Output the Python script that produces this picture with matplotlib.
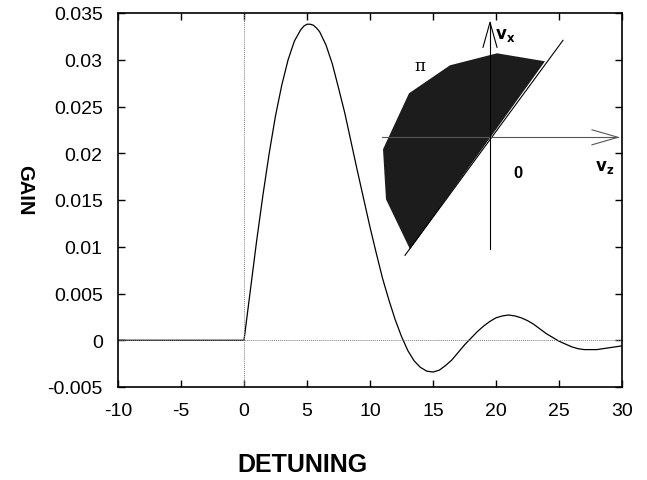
import numpy as np
import matplotlib
matplotlib.use("Agg")
import matplotlib.pyplot as plt

plt.rcParams['font.family'] = ['Liberation Sans', 'DejaVu Sans']
plt.rcParams['axes.unicode_minus'] = False

# --- gain curve ---
detuning = [-10, -5, -1, 0, 0.5, 1.0, 1.5, 2.0, 2.5, 3.0, 3.5, 4.0, 4.5, 4.75, 5.0,
            5.25, 5.5, 5.75, 6.0, 6.5, 7.0, 7.5, 8.0, 8.5, 9.0, 9.5, 10.0, 10.5,
            11.0, 11.5, 12.0, 12.5, 13.0, 13.5, 14.0, 14.5, 15.0, 15.5, 16.0, 16.5,
            17.0, 17.5, 18.0, 18.5, 19.0, 19.5, 20.0, 20.5, 21.0, 21.5, 22.0, 22.5,
            23.0, 23.5, 24.0, 24.5, 25.0, 25.5, 26.0, 26.5, 27.0, 27.5, 28.0, 28.5,
            29.0, 29.5, 30.0]
gain = [0, 0, 0, 0, 0.0053, 0.0106, 0.0155, 0.0200, 0.0240, 0.0273, 0.0300, 0.0320,
        0.0332, 0.0336, 0.0338, 0.0338, 0.0337, 0.0334, 0.0330, 0.0316, 0.0296,
        0.0270, 0.0243, 0.0212, 0.0181, 0.0151, 0.0121, 0.0093, 0.0066, 0.0043,
        0.0022, 0.0004, -0.0011, -0.0022, -0.0029, -0.0033, -0.0034, -0.0032,
        -0.0027, -0.0021, -0.0013, -0.0005, 0.0002, 0.0009, 0.0015, 0.0020, 0.0024,
        0.0026, 0.0027, 0.0026, 0.0024, 0.0021, 0.0017, 0.0012, 0.0007, 0.0003,
        -0.0001, -0.0004, -0.0007, -0.0009, -0.0010, -0.0010, -0.0010, -0.0009,
        -0.0008, -0.0007, -0.0006]

xticks = [-10, -5, 0, 5, 10, 15, 20, 25, 30]
yticks = [-0.005, 0, 0.005, 0.01, 0.015, 0.02, 0.025, 0.03, 0.035]
ytick_labels = ["-0.005", "0", "0.005", "0.01", "0.015", "0.02", "0.025", "0.03", "0.035"]

# --- inset sketch (v_z, v_x plane) ---
region_vz = [-8.0, -10.4, -10.7, -8.1, -4.0, 0.7, 5.5]
region_vx = [-11.2, -6.2, -1.2, 4.4, 7.2, 8.4, 7.6]
diag_vz = [-8.5, 7.3]
diag_vx = [-11.8, 9.7]

fig = plt.figure(figsize=(6.47, 4.81), dpi=100)
ax = fig.add_axes([118/647, 1-388/481, 504/647, 374/481])

ax.plot(detuning, gain, color="black", lw=0.9)
ax.axhline(0, color="gray", ls=(0, (1, 1)), lw=0.7)
ax.axvline(0, color="gray", ls=(0, (1, 1)), lw=0.7)

ax.set_xlim(-10, 30)
ax.set_ylim(-0.005, 0.035)
ax.set_xticks(xticks)
ax.set_yticks(yticks)
ax.set_yticklabels(ytick_labels)
ax.tick_params(direction="in", top=True, right=True, length=5, width=1,
               labelsize=14, pad=11)
for s in ax.spines.values():
    s.set_linewidth(1.2)

fig.text(302/647, 1-465/481, "DETUNING", ha="center", va="center",
         fontsize=18, fontweight="bold")
fig.text(25/647, 1-190/481, "GAIN", ha="center", va="center",
         fontsize=14.5, fontweight="bold", rotation=-90)

# inset
ins = fig.add_axes([370/647, 1-270/481, 260/647, 250/481])
ins.set_xlim(-12, 14)
ins.set_ylim(-13.17, 11.83)
ins.axis("off")
ins.patch.set_alpha(0)
ins.fill(region_vz, region_vx, color="#1c1c1c", lw=0)
ins.plot(diag_vz, diag_vx, color="black", lw=0.8)
ins.plot([-10.8, 12.8], [0, 0], color="#555555", lw=0.8)
ins.plot([10.2, 12.8, 10.2], [0.75, 0, -0.75], color="#555555", lw=0.8)
ins.plot([0, 0], [-11.2, 11.5], color="black", lw=0.8)
ins.plot([-0.7, 0, 0.7], [9.0, 11.5, 9.0], color="black", lw=0.8)
ins.text(-7.0, 7.2, "π", fontsize=12, family="DejaVu Serif", ha="center", va="center")
ins.text(1.5, 10.3, r"$\mathbf{v_x}$", fontsize=12, ha="center", va="center")
ins.text(11.5, -2.9, r"$\mathbf{v_z}$", fontsize=12, ha="center", va="center")
ins.text(2.8, -3.5, "0", fontsize=12, fontweight="bold", ha="center", va="center")

fig.savefig("out.png", dpi=100)
